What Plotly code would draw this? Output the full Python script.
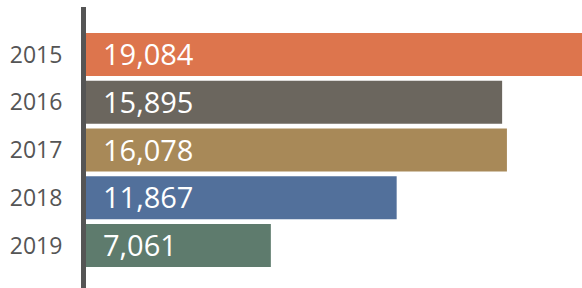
import plotly.graph_objects as go

years = ["2015", "2016", "2017", "2018", "2019"]
values = [19084, 15895, 16078, 11867, 7061]
colors = ["#DD754D", "#6B665E", "#A88958", "#52709B", "#5E7B6D"]

fig = go.Figure()
fig.add_trace(go.Bar(
    x=values, y=years, orientation="h",
    marker=dict(color=colors, line=dict(width=0)),
    hoverinfo="skip",
))

for i, v in enumerate(values):
    fig.add_annotation(
        x=0, y=i, xref="x", yref="y", text=f"{v:,}",
        xanchor="left", yanchor="middle", xshift=15, yshift=1,
        showarrow=False,
        font=dict(family="Open Sans", size=29, color="#FFFFFF"),
    )

fig.update_layout(
    width=582, height=288,
    margin=dict(l=86, r=0, t=7, b=0),
    paper_bgcolor="white", plot_bgcolor="white",
    bargap=0.1,
    showlegend=False,
    font=dict(family="Open Sans"),
    xaxis=dict(range=[0, 18946], visible=False, showgrid=False, zeroline=False, fixedrange=True),
    yaxis=dict(
        type="category", categoryorder="array", categoryarray=years,
        range=[4.89, -0.995],
        showline=True, linecolor="#555555", linewidth=5,
        showgrid=False, zeroline=False, ticks="",
        ticklabelstandoff=14,
        tickfont=dict(family="Open Sans", size=23, color="#555555"),
        fixedrange=True,
    ),
)

fig.write_html(
    "out.html",
    config={"displayModeBar": False},
    post_script="document.body.style.margin='0';document.body.style.overflow='hidden';",
)
